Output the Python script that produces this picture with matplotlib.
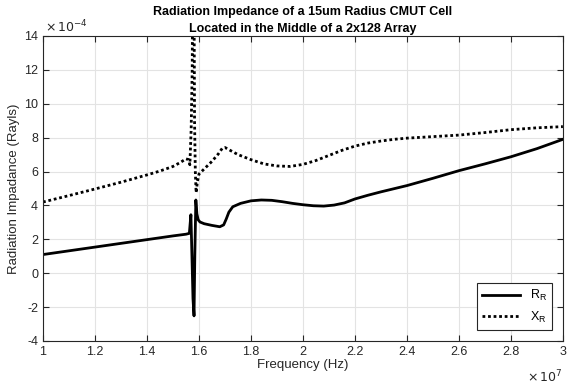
import matplotlib
matplotlib.use("Agg")
import matplotlib.pyplot as plt
from matplotlib.ticker import FuncFormatter

plt.rcParams['font.family'] = ['Liberation Sans', 'DejaVu Sans']

# frequency in units of 1e7 Hz, impedance in units of 1e-4 Rayls
freq_r = [1.00, 1.10, 1.20, 1.30, 1.40, 1.50, 1.55, 1.563, 1.569, 1.573, 1.577,
          1.581, 1.584, 1.588, 1.592, 1.597, 1.604, 1.62, 1.65, 1.68, 1.695,
          1.705, 1.715, 1.73, 1.76, 1.80, 1.84, 1.88, 1.92, 1.96, 2.00, 2.04,
          2.08, 2.12, 2.16, 2.20, 2.25, 2.30, 2.40, 2.50, 2.60, 2.70, 2.80,
          2.90, 3.00]
r_vals = [1.10, 1.32, 1.54, 1.76, 1.98, 2.20, 2.30, 2.35, 3.45, 1.0, -1.5,
          -2.52, 1.0, 4.32, 3.5, 3.15, 3.02, 2.92, 2.82, 2.74, 2.85,
          3.2, 3.6, 3.92, 4.12, 4.27, 4.32, 4.3, 4.22, 4.12, 4.04, 3.98,
          3.96, 4.02, 4.15, 4.38, 4.6, 4.8, 5.17, 5.6, 6.05, 6.45, 6.87,
          7.35, 7.9]

freq_x = [1.00, 1.10, 1.20, 1.30, 1.40, 1.45, 1.50, 1.53, 1.55, 1.56, 1.565,
          1.570, 1.574, 1.577, 1.580, 1.583, 1.586, 1.589, 1.594, 1.60, 1.62,
          1.65, 1.675, 1.69, 1.70, 1.72, 1.75, 1.80, 1.85, 1.90, 1.95, 2.00,
          2.05, 2.10, 2.15, 2.20, 2.25, 2.30, 2.35, 2.40, 2.50, 2.60, 2.70,
          2.80, 2.90, 3.00]
x_vals = [4.20, 4.58, 4.97, 5.37, 5.80, 6.03, 6.30, 6.55, 6.75, 6.70, 6.40,
          8.5, 12.0, 20.0, 20.0, 9.0, 6.0, 4.75, 5.4, 5.85, 6.15,
          6.6, 7.05, 7.38, 7.42, 7.25, 7.0, 6.7, 6.45, 6.33, 6.3, 6.42,
          6.65, 6.95, 7.25, 7.5, 7.68, 7.8, 7.9, 7.97, 8.06, 8.15, 8.3,
          8.47, 8.58, 8.65]

x_ticks = [1, 1.2, 1.4, 1.6, 1.8, 2, 2.2, 2.4, 2.6, 2.8, 3]
y_ticks = [-4, -2, 0, 2, 4, 6, 8, 10, 12, 14]

dark = '#262626'

fig = plt.figure(figsize=(5.68, 3.87), dpi=100)
ax = fig.add_axes([0.0757, 0.119, 0.9153, 0.788])

ax.plot(freq_r, r_vals, color='black', lw=2.0, label=r'R$_\mathregular{R}$')
ax.plot(freq_x, x_vals, color='black', lw=2.0, ls=(0, (1, 1)), label=r'X$_\mathregular{R}$')

ax.set_xlim(1, 3)
ax.set_ylim(-4, 14)
ax.set_xticks(x_ticks)
ax.set_yticks(y_ticks)
ax.xaxis.set_major_formatter(FuncFormatter(lambda v, p: ('%g' % round(v, 2))))
ax.yaxis.set_major_formatter(FuncFormatter(lambda v, p: ('%g' % v)))
ax.grid(True, color='#e3e3e3', lw=0.8)
ax.set_axisbelow(True)
ax.tick_params(direction='in', length=4, labelsize=9, colors=dark, top=True, right=True,
               labeltop=False, labelright=False)
for sp in ax.spines.values():
    sp.set_color(dark)
    sp.set_linewidth(0.8)

ax.set_xlabel('Frequency (Hz)', fontsize=9.5, color=dark, labelpad=0.5)
ax.set_ylabel('Radiation Impadance (Rayls)', fontsize=9.5, color=dark, labelpad=3)
ax.set_title('Radiation Impedance of a 15um Radius CMUT Cell\nLocated in the Middle of a 2x128 Array',
             fontsize=9, fontweight='bold', color='black', pad=3, linespacing=1.5)

ax.text(0.004, 1.003, r'$\times\,10^{-4}$', transform=ax.transAxes, fontsize=9,
        color=dark, ha='left', va='bottom')
ax.text(1.0, -0.118, r'$\times\,10^{7}$', transform=ax.transAxes, fontsize=9,
        color=dark, ha='right', va='center')

leg = ax.legend(loc='lower right', fontsize=9, frameon=True, fancybox=False,
                edgecolor=dark, handlelength=3.0, borderaxespad=0.9, framealpha=1)
leg.get_frame().set_linewidth(0.8)

fig.savefig('out.png', dpi=100)
